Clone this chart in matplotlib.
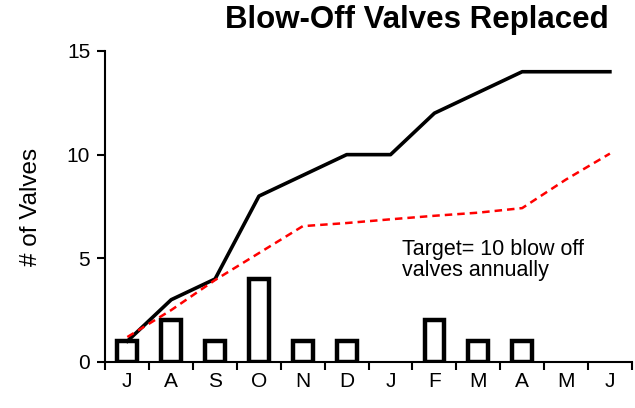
import matplotlib.pyplot as plt
import numpy as np

MONTHS = ["J", "A", "S", "O", "N", "D", "J", "F", "M", "A", "M", "J"]
REPLACED = [1, 2, 1, 4, 1, 1, 0, 2, 1, 1, 0, 0]
CUMULATIVE = [1, 3, 4, 8, 9, 10, 10, 12, 13, 14, 14, 14]
TARGET = [1.2, 2.5, 3.95, 5.25, 6.55, 6.7, 6.88, 7.05, 7.2, 7.42, 8.8, 10.05]

plt.rcParams["font.family"] = ["Liberation Sans", "DejaVu Sans"]

fig = plt.figure(figsize=(6.35, 4.08), dpi=100)
ax = fig.add_axes((0.166, 0.113, 0.829, 0.762))

x = np.arange(len(MONTHS))
replaced = np.array(REPLACED)
nonzero = replaced > 0
# empty months get no bar at all (otherwise the thick edge shows as a flat line)
ax.bar(x[nonzero], replaced[nonzero], width=0.45, facecolor="white",
       edgecolor="black", linewidth=3.2, zorder=2)
ax.plot(x, CUMULATIVE, color="black", linewidth=2.6, zorder=3)
ax.plot(x, TARGET, color="#ff0000", linewidth=1.8, linestyle=(0, (3, 2)), zorder=3)

ax.text(6.25, 5.95, "Target= 10 blow off\nvalves annually", fontsize=15.5,
        va="top", ha="left", linespacing=1.0)

ax.set_xlim(-0.5, len(MONTHS) - 0.5)
ax.set_ylim(0, 15)
ax.set_yticks([0, 5, 10, 15])
ax.set_xticks(x, MONTHS)
ax.set_xticks(np.arange(-0.5, len(MONTHS)), minor=True)
ax.tick_params(axis="x", which="major", length=0, labelsize=15, pad=7)
ax.tick_params(axis="x", which="minor", length=6, width=1.5, direction="out")
ax.tick_params(axis="y", length=6, width=1.5, direction="out", labelsize=15, pad=5)
ax.set_ylabel("# of Valves", fontsize=17.5, labelpad=18)
for side in ["top", "right"]:
    ax.spines[side].set_visible(False)
for side in ["left", "bottom"]:
    ax.spines[side].set_linewidth(1.5)

fig.text(0.958, 0.931, "Blow-Off Valves Replaced", fontsize=22.5, fontweight="bold",
         ha="right", va="baseline")

fig.savefig("out.png", dpi=100)
